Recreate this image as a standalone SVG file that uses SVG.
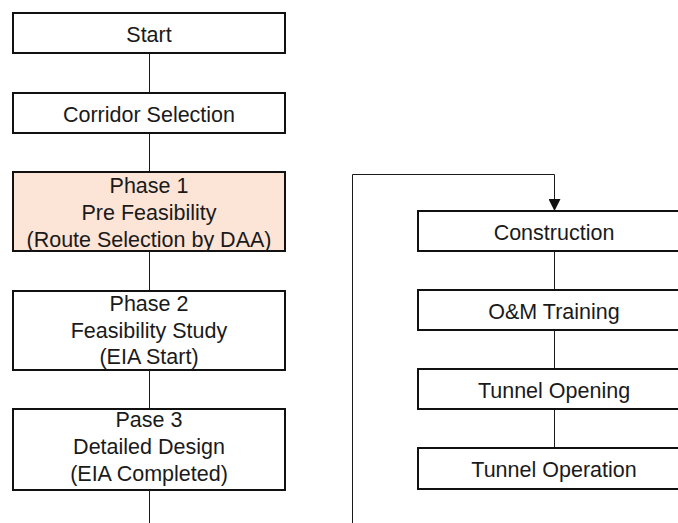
<svg xmlns="http://www.w3.org/2000/svg" width="678" height="523" viewBox="0 0 678 523">
  <defs>
    <marker id="arrow" viewBox="0 0 12 12" refX="12" refY="6" markerWidth="12" markerHeight="12" markerUnits="userSpaceOnUse" orient="auto">
      <path d="M0,0 L12,6 L0,12 Z" fill="#111"/>
    </marker>
  </defs>
  <style>
    .box { fill: #ffffff; stroke: #111111; stroke-width: 2; }
    .box.hl { fill: #fce4d6; }
    .lbl { font-family: "Liberation Sans", Arial, sans-serif; font-size: 21.5px; fill: #1a1a1a; text-anchor: middle; }
    .link { fill: none; stroke: #1a1a1a; stroke-width: 1; }
  </style>
  <rect width="678" height="523" fill="#ffffff"/>

  <!-- connectors -->
  <g id="connectors">
    <line class="link" x1="149.5" y1="53" x2="149.5" y2="93"/>
    <line class="link" x1="149.5" y1="133" x2="149.5" y2="172"/>
    <line class="link" x1="149.5" y1="251" x2="149.5" y2="291"/>
    <line class="link" x1="149.5" y1="370" x2="149.5" y2="409"/>
    <line class="link" x1="149.5" y1="490" x2="149.5" y2="523"/>
    <polyline class="link" points="352.5,523 352.5,174.5 554.5,174.5 554.5,211" marker-end="url(#arrow)"/>
    <line class="link" x1="554.5" y1="251" x2="554.5" y2="290"/>
    <line class="link" x1="554.5" y1="330" x2="554.5" y2="369"/>
    <line class="link" x1="554.5" y1="409" x2="554.5" y2="448"/>
  </g>

  <!-- left column -->
  <g id="start">
    <rect class="box" x="13" y="13" width="272" height="40"/>
    <text class="lbl" x="149" y="42">Start</text>
  </g>
  <g id="corridor-selection">
    <rect class="box" x="13" y="93" width="272" height="40"/>
    <text class="lbl" x="149" y="121.5">Corridor Selection</text>
  </g>
  <g id="phase-1">
    <rect class="box hl" x="13" y="172" width="272" height="79"/>
    <text class="lbl" x="149" y="193">Phase 1</text>
    <text class="lbl" x="149" y="220">Pre Feasibility</text>
    <text class="lbl" x="149" y="246.5">(Route Selection by DAA)</text>
  </g>
  <g id="phase-2">
    <rect class="box" x="13" y="291" width="272" height="79"/>
    <text class="lbl" x="149" y="311">Phase 2</text>
    <text class="lbl" x="149" y="337.5">Feasibility Study</text>
    <text class="lbl" x="149" y="364">(EIA Start)</text>
  </g>
  <g id="phase-3">
    <rect class="box" x="13" y="409" width="272" height="81"/>
    <text class="lbl" x="149" y="427">Pase 3</text>
    <text class="lbl" x="149" y="454">Detailed Design</text>
    <text class="lbl" x="149" y="481">(EIA Completed)</text>
  </g>

  <!-- right column -->
  <g id="construction">
    <rect class="box" x="418" y="211" width="272" height="40"/>
    <text class="lbl" x="554" y="240">Construction</text>
  </g>
  <g id="om-training">
    <rect class="box" x="418" y="290" width="272" height="40"/>
    <text class="lbl" x="554" y="319">O&amp;M Training</text>
  </g>
  <g id="tunnel-opening">
    <rect class="box" x="418" y="369" width="272" height="40"/>
    <text class="lbl" x="554" y="398">Tunnel Opening</text>
  </g>
  <g id="tunnel-operation">
    <rect class="box" x="418" y="448" width="272" height="41"/>
    <text class="lbl" x="554" y="477">Tunnel Operation</text>
  </g>
</svg>
